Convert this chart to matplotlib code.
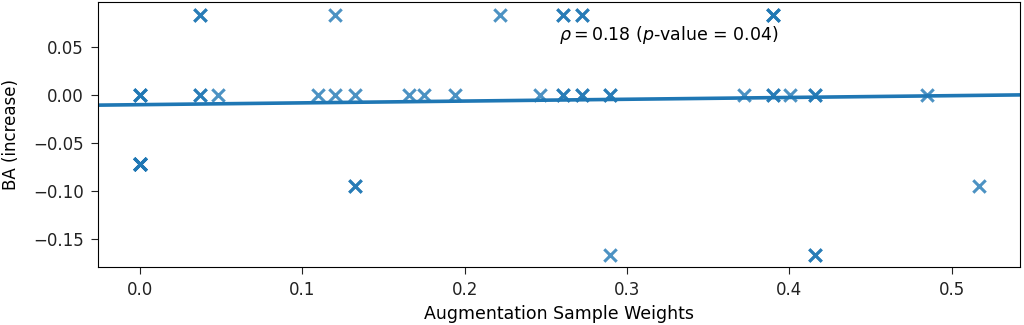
import matplotlib
matplotlib.use('Agg')
import matplotlib.pyplot as plt
import numpy as np

# augmentation sample weight, BA increase, number of overlapping runs
weights = [0.037, 0.120, 0.222, 0.2606, 0.2725, 0.390,
           0.0, 0.037, 0.048, 0.1095, 0.120, 0.1327, 0.1655, 0.175, 0.194,
           0.2466, 0.2606, 0.2725, 0.2893, 0.3722, 0.390, 0.4005, 0.4155, 0.4847,
           0.0, 0.1327, 0.2893, 0.4155, 0.5165]
ba_increase = [0.0833, 0.0833, 0.0833, 0.0833, 0.0833, 0.0833,
               0.0, 0.0, 0.0, 0.0, 0.0, 0.0, 0.0, 0.0, 0.0,
               0.0, 0.0, 0.0, 0.0, 0.0, 0.0, 0.0, 0.0, 0.0,
               -0.0714, -0.0952, -0.1667, -0.1667, -0.0952]
counts = [2, 1, 1, 2, 2, 3,
          3, 2, 1, 1, 1, 1, 1, 1, 1,
          1, 2, 2, 2, 1, 2, 1, 2, 1,
          6, 2, 1, 2, 1]

x = np.repeat(weights, counts)
y = np.repeat(ba_increase, counts)

fig = plt.figure(figsize=(10.24, 3.25), dpi=100)
ax = fig.add_axes([0.096, 0.179, 0.9, 0.815])

ax.scatter(x, y, marker='x', s=80, linewidths=2.2, color='#1f77b4', alpha=0.8)

xlim = (-0.0256, 0.542)
slope, icpt = np.polyfit(x, y, 1)
xs = np.array(xlim)
ax.plot(xs, slope * xs + icpt, color='#1f77b4', lw=2.6)

ax.set_xlim(xlim)
ax.set_ylim(-0.179, 0.097)
ax.set_yticks([0.05, 0.0, -0.05, -0.10, -0.15])
ax.set_xticks([0.0, 0.1, 0.2, 0.3, 0.4, 0.5])
ax.tick_params(labelsize=12, colors='#222222', length=5, pad=5.5)
ax.set_xlabel('Augmentation Sample Weights', fontsize=12.5, labelpad=4)
ax.set_ylabel('BA (increase)', fontsize=12)
ax.yaxis.set_label_coords(-0.085, 0.5)
ax.text(0.258, 0.0573, r'$\rho = 0.18$ ($p$-value = 0.04)', fontsize=12.5)

fig.savefig('out.png', dpi=100)
